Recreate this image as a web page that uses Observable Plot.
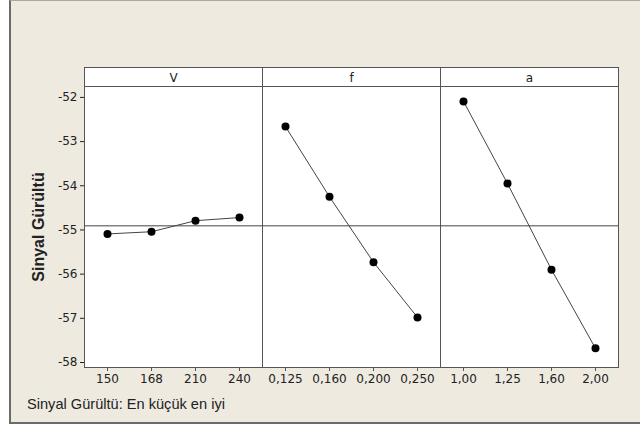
<!DOCTYPE html>
<html>
<head>
<meta charset="utf-8">
<script src="https://cdn.jsdelivr.net/npm/d3@7"></script>
<script src="https://cdn.jsdelivr.net/npm/@observablehq/plot@0.6"></script>
<style>
  html, body { margin: 0; padding: 0; background: #ffffff; }
  #bg { position: absolute; left: 9px; top: 0; width: 640px; height: 424px; box-sizing: border-box;
        background: #eeeae0; border-left: 2px solid #6b6b6b; border-top: 1px solid #aba79f; border-bottom: 2px solid #6b6b6b; }
  #chart { position: absolute; left: 0; top: 0; }
  #caption { position: absolute; left: 27px; top: 396px; font: 14.6px "Liberation Sans", Arial, sans-serif; color: #222; white-space: nowrap; }
</style>
</head>
<body>
<div id="bg"></div>
<div id="chart"></div>
<div id="caption">Sinyal Gürültü: En küçük en iyi</div>
<script>
// Data
const factors = ["V", "f", "a"];
const vLevels = ["150", "168", "210", "240"];
const vSN = [-55.09, -55.04, -54.79, -54.72];
const fLevels = ["0,125", "0,160", "0,200", "0,250"];
const fSN = [-52.66, -54.25, -55.73, -56.98];
const aLevels = ["1,00", "1,25", "1,60", "2,00"];
const aSN = [-52.09, -53.95, -55.90, -57.68];
const yTicks = [-58, -57, -56, -55, -54, -53, -52];

const series = {V: [vLevels, vSN], f: [fLevels, fSN], a: [aLevels, aSN]};
const rows = [];
for (const fac of factors) {
  const [lv, sn] = series[fac];
  lv.forEach((label, i) => rows.push({factor: fac, level: i, label, sn: sn[i]}));
}
const grandMean = d3.mean(rows, d => d.sn);

const chart = Plot.plot({
  width: 640,
  height: 392,
  marginLeft: 83,
  marginRight: 22,
  marginTop: 86,
  marginBottom: 25,
  style: {background: "transparent", fontFamily: "'DejaVu Sans', sans-serif", fontSize: "12px", color: "#222", overflow: "visible"},
  fx: {domain: factors, padding: 0, label: null},
  x: {type: "point", domain: [0, 1, 2, 3], padding: 0.5, label: null},
  y: {domain: [-58.113, -51.753], label: null},
  marks: [
    Plot.frame({fill: "white", stroke: "#555", insetTop: -19}),
    Plot.frame({stroke: "#555"}),
    Plot.axisFx({anchor: "top", tickSize: 0, tickPadding: 5, label: null, fontSize: 12}),
    Plot.axisY({ticks: yTicks, tickSize: 4, tickPadding: 3, tickFormat: d => String(d),
                label: "Sinyal Gürültü", labelAnchor: "center", labelArrow: "none", labelOffset: 52}),
    Plot.axisX({ticks: [0, 1, 2, 3], tickSize: 4, tickFormat: () => "", label: null, stroke: "#555"}),
    Plot.text(rows, {fx: "factor", x: "level", text: "label", frameAnchor: "bottom", dy: 15, fill: "#222"}),
    Plot.ruleY([grandMean], {stroke: "#444", strokeWidth: 1}),
    Plot.line(rows, {fx: "factor", x: "level", y: "sn", stroke: "#444", strokeWidth: 1}),
    Plot.dot(rows, {fx: "factor", x: "level", y: "sn", r: 4, fill: "#000", stroke: "none"})
  ]
});
document.getElementById("chart").appendChild(chart);
d3.select(chart).selectAll('g[aria-label="y-axis label"] text')
  .style("font-family", "'Liberation Sans', Arial, sans-serif")
  .style("font-weight", "bold")
  .style("font-size", "16px");
</script>
</body>
</html>
